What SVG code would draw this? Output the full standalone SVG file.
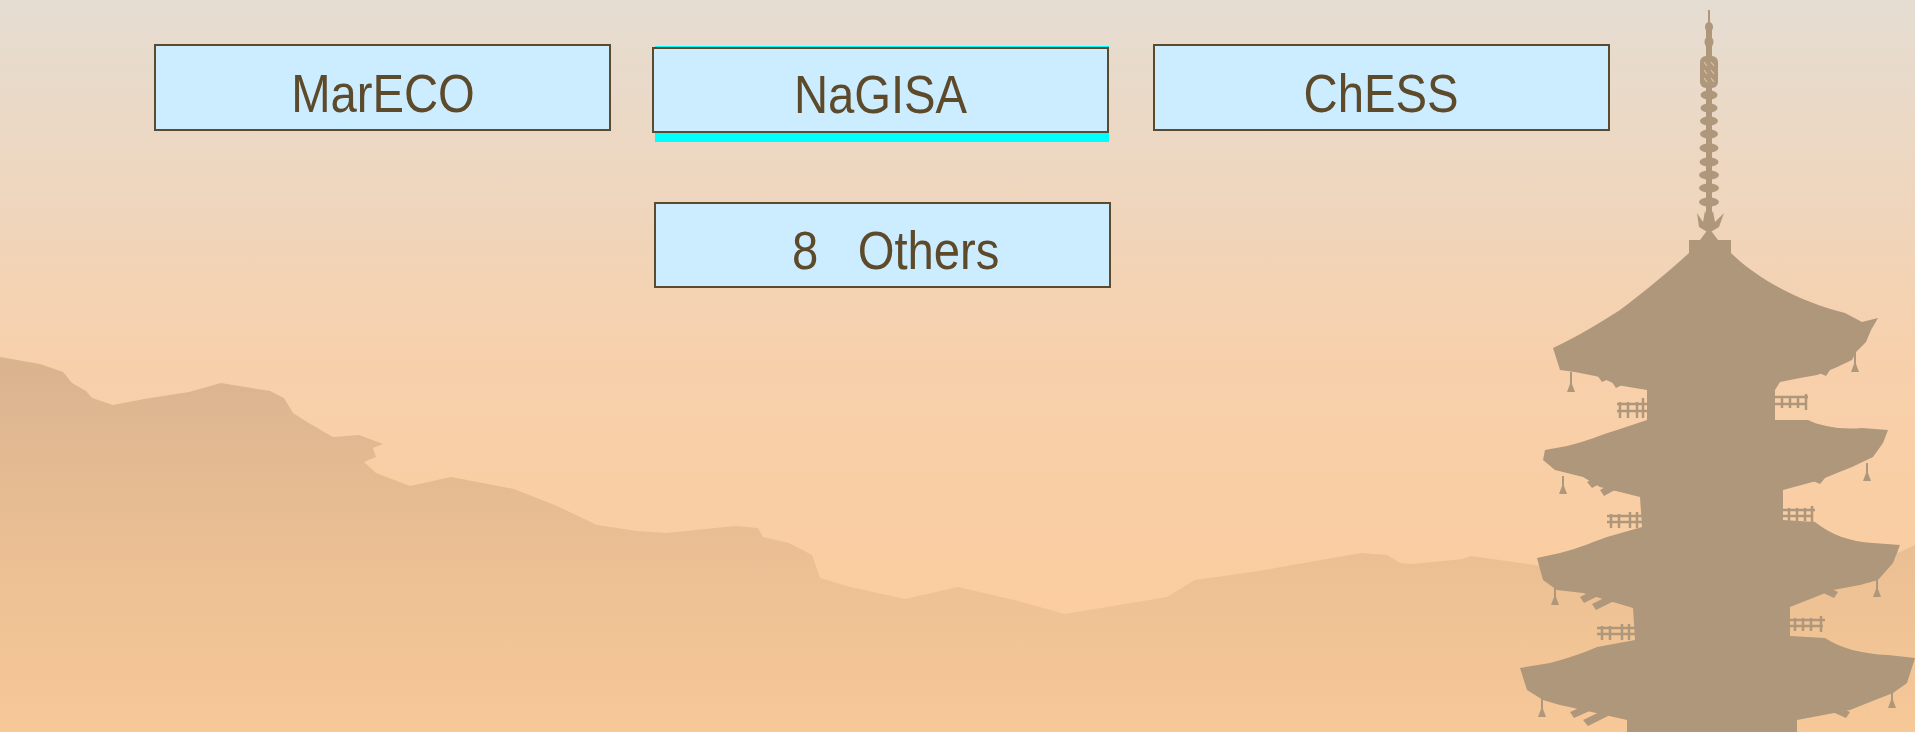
<svg xmlns="http://www.w3.org/2000/svg" width="1915" height="732" viewBox="0 0 1915 732">
  <defs>
    <linearGradient id="sky" x1="0" y1="0" x2="0" y2="732" gradientUnits="userSpaceOnUse">
      <stop offset="0" stop-color="#E5DDD2"/>
      <stop offset="0.22" stop-color="#EDD7C1"/>
      <stop offset="0.5" stop-color="#F7D0AB"/>
      <stop offset="1" stop-color="#FDCB99"/>
    </linearGradient>
    <linearGradient id="hill" x1="0" y1="357" x2="0" y2="732" gradientUnits="userSpaceOnUse">
      <stop offset="0" stop-color="#DAB38F"/>
      <stop offset="0.6" stop-color="#EDC194"/>
      <stop offset="1" stop-color="#F7C898"/>
    </linearGradient>
    <style>
      .box { fill: #CCECFF; stroke: #5A4A30; stroke-width: 2; }
      .lbl { font-family: "Liberation Sans", Arial, sans-serif; font-size: 54px; fill: #5C4A2A; }
      .pg { fill: #AE977B; }
      .pgl { fill: none; stroke: #AE977B; stroke-width: 2.5; }
    </style>
  </defs>

  <!-- sky -->
  <rect x="0" y="0" width="1915" height="732" fill="url(#sky)"/>

  <!-- hills -->
  <path fill="url(#hill)" d="M0,357 L40,364 L63,372 L72,383 L86,391 L92,398 L113,405 L144,399 L189,392 L221,383 L270,391 L284,398 L293,413 L307,422 L333,437 L359,435 L383,444 L373,448 L376,457 L364,462 L376,473 L410,486 L451,477 L514,489 L557,506 L597,525 L637,531 L666,533 L735,526 L758,528 L763,537 L789,543 L812,555 L820,578 L850,587 L905,599 L958,587 L1014,600 L1065,614 L1167,597 L1195,580 L1259,571 L1361,553 L1387,555 L1400,563 L1412,564 L1463,559 L1471,556 L1534,565 L1600,570 L1880,556 L1900,552 L1915,545 L1915,732 L0,732 Z"/>

  <!-- pagoda -->
  <g id="pagoda">
    <!-- spire -->
    <rect class="pg" x="1708" y="10" width="2" height="22"/>
    <rect class="pg" x="1706" y="30" width="6" height="200"/>
    <ellipse class="pg" cx="1709" cy="27" rx="4" ry="5"/>
    <ellipse class="pg" cx="1709" cy="42" rx="4.5" ry="5.5"/>
    <rect class="pg" x="1700" y="56" width="18" height="32" rx="6"/>
    <path d="M1704,62 L1707,66 M1704,70 L1707,74 M1704,78 L1707,82 M1711,62 L1714,66 M1711,70 L1714,74 M1711,78 L1714,82" stroke="#D9C3A8" stroke-width="1.2" fill="none"/>
    <ellipse class="pg" cx="1709" cy="95" rx="8.5" ry="4.5"/>
    <ellipse class="pg" cx="1709" cy="108" rx="8.5" ry="4.5"/>
    <ellipse class="pg" cx="1709" cy="121" rx="9" ry="4.5"/>
    <ellipse class="pg" cx="1709" cy="134" rx="9" ry="4.5"/>
    <ellipse class="pg" cx="1709" cy="148" rx="9.5" ry="4.5"/>
    <ellipse class="pg" cx="1709" cy="162" rx="9.5" ry="4.5"/>
    <ellipse class="pg" cx="1709" cy="175" rx="10" ry="4.5"/>
    <ellipse class="pg" cx="1709" cy="188" rx="10" ry="4.5"/>
    <ellipse class="pg" cx="1709" cy="202" rx="10" ry="4.5"/>
    <path class="pg" d="M1697,213 L1703,222 L1705,211 L1709,219 L1713,211 L1715,222 L1724,213 L1719,227 L1709,233 L1699,227 Z"/>

    <!-- main silhouette -->
    <path class="pg" d="M1689,240 L1700,240 L1709,228 L1718,240 L1731,240 L1731,253
      C1762,283 1805,303 1845,313 L1862,322 L1878,318 L1871,330 L1866,342 L1856,352 L1852,360
      L1835,368 L1817,375 L1800,378 L1780,382 L1775,390 L1775,420 L1808,420
      C1820,426 1840,430 1862,428 L1888,430 L1883,443 L1873,457 L1852,467 L1837,473 L1820,480 L1783,490
      L1783,520 L1815,522 C1830,534 1850,542 1873,543 L1900,545 L1893,563 L1878,580 L1860,585 L1833,590 L1790,607
      L1790,636 L1825,638 C1840,648 1862,654 1888,655 L1915,658 L1907,683 L1893,693 L1870,702 L1850,710 L1797,720
      L1797,732 L1627,732 L1627,720 L1583,710 L1560,705 L1543,700 L1527,690 L1520,668
      L1550,663 C1570,658 1585,652 1597,647 L1635,640 L1633,608 L1583,593 L1557,590 L1543,580 L1537,558
      L1560,553 C1580,548 1595,541 1607,537 L1642,527 L1640,497 L1600,487 L1583,477 L1555,470 L1543,460 L1545,450
      L1567,446 C1585,442 1600,435 1617,430 L1647,420 L1647,390 L1617,385 L1600,377 L1575,372 L1560,370 L1553,348
      C1580,335 1600,323 1620,310 C1640,295 1665,275 1689,253 Z"/>

    <!-- eave brackets -->
    <path class="pg" d="M1597,375 L1615,368 L1620,374 L1602,382 Z M1612,382 L1628,374 L1632,380 L1616,388 Z
      M1587,482 L1605,472 L1610,478 L1592,488 Z M1600,490 L1618,480 L1622,486 L1604,496 Z
      M1580,597 L1598,588 L1602,594 L1584,603 Z M1592,604 L1612,594 L1616,600 L1596,610 Z
      M1570,712 L1590,703 L1594,709 L1574,718 Z M1583,720 L1604,710 L1608,716 L1588,726 Z
      M1830,370 L1812,362 L1808,368 L1826,376 Z
      M1825,478 L1805,470 L1802,476 L1820,484 Z
      M1838,592 L1820,584 L1817,590 L1834,598 Z
      M1850,712 L1830,703 L1826,709 L1846,718 Z"/>

    <!-- hanging bells -->
    <path class="pg" d="M1570,372 h2 v12 l3,8 h-8 l3,-8 z M1854,352 h2 v12 l3,8 h-8 l3,-8 z
      M1562,476 h2 v10 l3,8 h-8 l3,-8 z M1866,463 h2 v10 l3,8 h-8 l3,-8 z
      M1554,586 h2 v11 l3,8 h-8 l3,-8 z M1876,578 h2 v11 l3,8 h-8 l3,-8 z
      M1541,699 h2 v10 l3,8 h-8 l3,-8 z M1891,689 h2 v11 l3,8 h-8 l3,-8 z"/>

    <!-- balcony railings -->
    <path class="pgl" d="M1617,404 H1647 M1617,411 H1647 M1620,402 V418 M1628,402 V418 M1637,402 V418 M1643,398 V418"/>
    <path class="pgl" d="M1775,397 H1808 M1775,404 H1805 M1782,396 V408 M1790,396 V408 M1798,396 V408 M1806,394 V410"/>
    <path class="pgl" d="M1607,516 H1642 M1607,522 H1642 M1611,514 V528 M1619,514 V528 M1630,512 V528 M1637,512 V528"/>
    <path class="pgl" d="M1783,510 H1815 M1783,516 H1813 M1789,508 V521 M1797,508 V521 M1805,508 V521 M1812,506 V522"/>
    <path class="pgl" d="M1597,628 H1635 M1597,634 H1635 M1602,626 V640 M1610,626 V640 M1622,624 V640 M1629,624 V640"/>
    <path class="pgl" d="M1788,620 H1825 M1788,626 H1823 M1795,618 V631 M1803,618 V631 M1811,618 V631 M1821,616 V632"/>
  </g>

  <!-- nodes -->
  <g id="node-mareco">
    <rect class="box" x="155" y="45" width="455" height="85"/>
    <text class="lbl" text-anchor="middle" transform="translate(383,112) scale(0.875,1)">MarECO</text>
  </g>

  <g id="node-nagisa">
    <rect x="655" y="46" width="454" height="96" fill="#00FFFF"/>
    <rect class="box" x="653" y="48" width="455" height="84" stroke="#4B4A3E" stroke-width="2.5"/>
    <text class="lbl" text-anchor="middle" transform="translate(880.5,113) scale(0.875,1)">NaGISA</text>
  </g>

  <g id="node-chess">
    <rect class="box" x="1154" y="45" width="455" height="85"/>
    <text class="lbl" text-anchor="middle" transform="translate(1381,112) scale(0.875,1)">ChESS</text>
  </g>

  <g id="node-others">
    <rect class="box" x="655" y="203" width="455" height="84"/>
    <text class="lbl" xml:space="preserve" transform="translate(792,269) scale(0.875,1)">8   Others</text>
  </g>

  <g id="connectors"/>
</svg>
